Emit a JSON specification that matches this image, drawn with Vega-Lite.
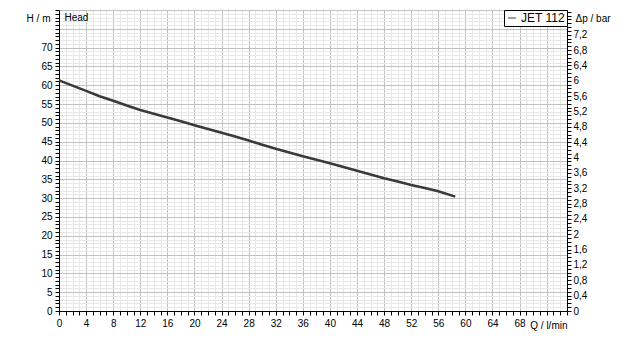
{
  "$schema": "https://vega.github.io/schema/vega-lite/v6.json",
  "width": 508,
  "height": 301,
  "autosize": {"type": "none"},
  "padding": {"left": 59, "top": 10, "right": 58, "bottom": 29},
  "background": "white",
  "config": {
    "view": {"stroke": "#000", "strokeWidth": 1},
    "font": "Liberation Sans",
    "axis": {
      "labelFont": "Liberation Sans",
      "labelFontSize": 10,
      "labelColor": "#000",
      "titleFont": "Liberation Sans",
      "titleFontSize": 10,
      "titleFontWeight": "normal",
      "titleColor": "#000",
      "domainColor": "#000",
      "tickColor": "#000",
      "tickSize": 4,
      "labelOverlap": false,
      "labelFlush": false,
      "labelBound": false
    }
  },
  "datasets": {
    "curve": [
      {"Q": 0, "H": 61.3, "dp": 6.01, "series": "JET 112"},
      {"Q": 2, "H": 59.9, "dp": 5.87, "series": "JET 112"},
      {"Q": 4, "H": 58.5, "dp": 5.74, "series": "JET 112"},
      {"Q": 6, "H": 57.1, "dp": 5.60, "series": "JET 112"},
      {"Q": 8, "H": 55.9, "dp": 5.48, "series": "JET 112"},
      {"Q": 10, "H": 54.6, "dp": 5.35, "series": "JET 112"},
      {"Q": 12, "H": 53.4, "dp": 5.24, "series": "JET 112"},
      {"Q": 14, "H": 52.4, "dp": 5.14, "series": "JET 112"},
      {"Q": 16, "H": 51.4, "dp": 5.04, "series": "JET 112"},
      {"Q": 18, "H": 50.4, "dp": 4.94, "series": "JET 112"},
      {"Q": 20, "H": 49.4, "dp": 4.84, "series": "JET 112"},
      {"Q": 22, "H": 48.4, "dp": 4.75, "series": "JET 112"},
      {"Q": 24, "H": 47.4, "dp": 4.65, "series": "JET 112"},
      {"Q": 26, "H": 46.4, "dp": 4.55, "series": "JET 112"},
      {"Q": 28, "H": 45.3, "dp": 4.44, "series": "JET 112"},
      {"Q": 30, "H": 44.2, "dp": 4.33, "series": "JET 112"},
      {"Q": 32, "H": 43.1, "dp": 4.23, "series": "JET 112"},
      {"Q": 34, "H": 42.1, "dp": 4.13, "series": "JET 112"},
      {"Q": 36, "H": 41.1, "dp": 4.03, "series": "JET 112"},
      {"Q": 38, "H": 40.2, "dp": 3.94, "series": "JET 112"},
      {"Q": 40, "H": 39.3, "dp": 3.85, "series": "JET 112"},
      {"Q": 42, "H": 38.3, "dp": 3.76, "series": "JET 112"},
      {"Q": 44, "H": 37.3, "dp": 3.66, "series": "JET 112"},
      {"Q": 46, "H": 36.3, "dp": 3.56, "series": "JET 112"},
      {"Q": 48, "H": 35.3, "dp": 3.46, "series": "JET 112"},
      {"Q": 50, "H": 34.4, "dp": 3.37, "series": "JET 112"},
      {"Q": 52, "H": 33.5, "dp": 3.29, "series": "JET 112"},
      {"Q": 54, "H": 32.7, "dp": 3.21, "series": "JET 112"},
      {"Q": 56, "H": 31.8, "dp": 3.12, "series": "JET 112"},
      {"Q": 58.5, "H": 30.4, "dp": 2.98, "series": "JET 112"}
    ]
  },
  "data": {"name": "curve"},
  "layer": [
    {
      "mark": {"type": "line", "strokeWidth": 2.6},
      "encoding": {
        "x": {
          "field": "Q",
          "type": "quantitative",
          "scale": {"domain": [0, 75], "nice": false, "zero": false},
          "axis": {
            "title": "Q / l/min",
            "titleAngle": 0,
            "titleX": 508,
            "titleY": 14,
            "titleAlign": "right",
            "titleBaseline": "middle",
            "values": [0,1,2,3,4,5,6,7,8,9,10,11,12,13,14,15,16,17,18,19,20,21,22,23,24,25,26,27,28,29,30,31,32,33,34,35,36,37,38,39,40,41,42,43,44,45,46,47,48,49,50,51,52,53,54,55,56,57,58,59,60,61,62,63,64,65,66,67,68,69,70,71,72,73,74,75],
            "labelExpr": "(datum.value % 4 === 0 && datum.value <= 68) ? datum.label : ''",
            "labelOverlap": false,
            "labelPadding": 3,
            "grid": true,
            "gridColor": {"condition": {"test": "datum.value % 4 === 0", "value": "#c0c0c0"}, "value": "#e8e8e8"},
            "gridWidth": 1
          }
        },
        "y": {
          "field": "H",
          "type": "quantitative",
          "scale": {"domain": [0, 80], "nice": false},
          "axis": {
            "orient": "left",
            "title": "H / m",
            "titleAngle": 0,
            "titleX": -9,
            "titleY": 8,
            "titleAlign": "right",
            "titleBaseline": "middle",
            "values": [0,1,2,3,4,5,6,7,8,9,10,11,12,13,14,15,16,17,18,19,20,21,22,23,24,25,26,27,28,29,30,31,32,33,34,35,36,37,38,39,40,41,42,43,44,45,46,47,48,49,50,51,52,53,54,55,56,57,58,59,60,61,62,63,64,65,66,67,68,69,70,71,72,73,74,75,76,77,78,79,80],
            "labelExpr": "(datum.value % 5 === 0 && datum.value <= 70) ? datum.label : ''",
            "labelOverlap": false,
            "labelPadding": 3,
            "grid": true,
            "gridColor": {"condition": {"test": "datum.value % 5 === 0", "value": "#c0c0c0"}, "value": "#e8e8e8"},
            "gridWidth": 1
          }
        },
        "color": {
          "field": "series",
          "type": "nominal",
          "scale": {"range": ["#3a3a3a"]},
          "legend": {
            "title": null,
            "orient": "top-right",
            "offset": 0,
            "symbolType": "stroke",
            "symbolSize": 60,
            "symbolStrokeWidth": 1,
            "labelFont": "Liberation Sans",
            "labelFontSize": 12,
            "labelColor": "#000",
            "strokeColor": "#000",
            "fillColor": "white",
            "padding": 2,
            "labelOffset": 3
          }
        }
      }
    },
    {
      "mark": {"type": "line", "opacity": 0},
      "encoding": {
        "x": {
          "field": "Q",
          "type": "quantitative",
          "axis": {
            "title": "Q / l/min",
            "titleAngle": 0,
            "titleX": 508,
            "titleY": 14,
            "titleAlign": "right",
            "titleBaseline": "middle",
            "values": [0,1,2,3,4,5,6,7,8,9,10,11,12,13,14,15,16,17,18,19,20,21,22,23,24,25,26,27,28,29,30,31,32,33,34,35,36,37,38,39,40,41,42,43,44,45,46,47,48,49,50,51,52,53,54,55,56,57,58,59,60,61,62,63,64,65,66,67,68,69,70,71,72,73,74,75],
            "labelExpr": "(datum.value % 4 === 0 && datum.value <= 68) ? datum.label : ''",
            "labelOverlap": false,
            "labelPadding": 3,
            "grid": true,
            "gridColor": {"condition": {"test": "datum.value % 4 === 0", "value": "#c0c0c0"}, "value": "#e8e8e8"},
            "gridWidth": 1
          }
        },
        "y": {
          "field": "dp",
          "type": "quantitative",
          "scale": {"domain": [0, 7.845], "nice": false},
          "axis": {
            "orient": "right",
            "title": "Δp / bar",
            "titleAngle": 0,
            "titleX": 8,
            "titleY": 8,
            "titleAlign": "left",
            "titleBaseline": "middle",
            "grid": false,
            "values": [0,0.1,0.2,0.3,0.4,0.5,0.6,0.7,0.8,0.9,1,1.1,1.2,1.3,1.4,1.5,1.6,1.7,1.8,1.9,2,2.1,2.2,2.3,2.4,2.5,2.6,2.7,2.8,2.9,3,3.1,3.2,3.3,3.4,3.5,3.6,3.7,3.8,3.9,4,4.1,4.2,4.3,4.4,4.5,4.6,4.7,4.8,4.9,5,5.1,5.2,5.3,5.4,5.5,5.6,5.7,5.8,5.9,6,6.1,6.2,6.3,6.4,6.5,6.6,6.7,6.8,6.9,7,7.1,7.2,7.3,7.4,7.5,7.6,7.7,7.8],
            "labelExpr": "(round(datum.value * 10) % 4 === 0 && datum.value < 7.3) ? replace(format(datum.value, '~g'), '.', ',') : ''",
            "labelOverlap": false,
            "labelPadding": 2
          }
        }
      }
    },
    {
      "data": {"values": [{}]},
      "mark": {"type": "text", "align": "left", "baseline": "middle", "font": "Liberation Sans", "fontSize": 10, "color": "#000"},
      "encoding": {
        "x": {
          "datum": 0.8,
          "type": "quantitative",
          "axis": {
            "title": "Q / l/min",
            "titleAngle": 0,
            "titleX": 508,
            "titleY": 14,
            "titleAlign": "right",
            "titleBaseline": "middle",
            "values": [0,1,2,3,4,5,6,7,8,9,10,11,12,13,14,15,16,17,18,19,20,21,22,23,24,25,26,27,28,29,30,31,32,33,34,35,36,37,38,39,40,41,42,43,44,45,46,47,48,49,50,51,52,53,54,55,56,57,58,59,60,61,62,63,64,65,66,67,68,69,70,71,72,73,74,75],
            "labelExpr": "(datum.value % 4 === 0 && datum.value <= 68) ? datum.label : ''",
            "labelOverlap": false,
            "labelPadding": 3,
            "grid": true,
            "gridColor": {"condition": {"test": "datum.value % 4 === 0", "value": "#c0c0c0"}, "value": "#e8e8e8"},
            "gridWidth": 1
          }
        },
        "y": {"datum": 77.9, "type": "quantitative", "scale": {"domain": [0, 80], "nice": false}, "axis": null},
        "text": {"value": "Head"}
      }
    }
  ],
  "resolve": {"scale": {"y": "independent"}}
}
